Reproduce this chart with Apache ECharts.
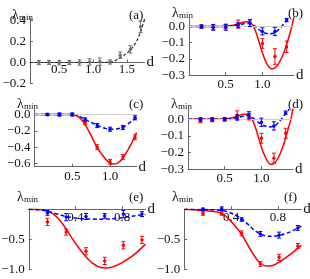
<!DOCTYPE html>
<html>
<head>
<meta charset="utf-8">
<script src="https://cdn.jsdelivr.net/npm/echarts@6/dist/echarts.min.js"></script>
<style>
html,body{margin:0;padding:0;background:#fff;}
#c{width:310px;height:279px;}
</style>
</head>
<body>
<div id="c"></div>
<script>
// ---------- Panel (a) ----------
const dA = [0.2,0.35,0.5,0.65,0.8,0.95,1.1,1.25,1.4,1.55,1.7];
const valA = [0.0,0.0,-0.003,0.0,0.0,0.005,0.008,0.005,0.07,0.125,0.34];
const errA = [0.02,0.02,0.02,0.02,0.025,0.03,0.035,0.02,0.03,0.035,0.055];
const curveAd = [0.07,0.6,1.0,1.2,1.3,1.4,1.47,1.54,1.6,1.66,1.715,1.764];
const curveAv = [0,0,0,0.001,0.01,0.045,0.075,0.115,0.16,0.225,0.32,0.42];

// ---------- Panels (b),(c),(d) shared d ----------
const dBCD = [0.17,0.33,0.5,0.67,0.83,1.0,1.17,1.33];

const redB = [0,-0.003,0,0.015,0.022,-0.105,-0.185,-0.125];
const redErrB = [0.01,0.015,0.015,0.025,0.022,0.03,0.048,0.035];
const blueB = [0,-0.005,-0.005,0.008,0.02,-0.03,-0.03,0.04];
const blueErrB = [0.01,0.018,0.018,0.015,0.02,0.022,0.025,0.01];
const redCurveBd = [0,0.3,0.5,0.6,0.68,0.75,0.8,0.84,0.88,0.93,0.98,1.03,1.08,1.13,1.19,1.25,1.3,1.35,1.4,1.43];
const redCurveBv = [0,0,0.002,0.008,0.018,0.028,0.03,0.022,0.0,-0.06,-0.135,-0.2,-0.245,-0.262,-0.248,-0.205,-0.15,-0.08,0.0,0.06];
const blueCurveBd = [0,0.3,0.5,0.65,0.75,0.82,0.88,0.95,1.02,1.1,1.17,1.23,1.29,1.35,1.38];
const blueCurveBv = [0,0,0,0.008,0.017,0.02,0.008,-0.018,-0.038,-0.045,-0.038,-0.015,0.015,0.048,0.06];

const redC = [0,0,0,-0.10,-0.40,-0.58,-0.52,-0.28];
const redErrC = [0.01,0.01,0.01,0.025,0.03,0.03,0.03,0.03];
const blueC = [0,0,0,-0.06,-0.135,-0.18,-0.16,-0.04];
const blueErrC = [0.015,0.02,0.02,0.02,0.025,0.025,0.025,0.025];
const redCurveCd = [0,0.3,0.5,0.56,0.62,0.68,0.75,0.82,0.9,0.97,1.04,1.1,1.16,1.22,1.28,1.35];
const redCurveCv = [0,0,0,-0.015,-0.06,-0.14,-0.26,-0.39,-0.5,-0.575,-0.607,-0.595,-0.545,-0.46,-0.36,-0.22];
const blueCurveCd = [0,0.3,0.5,0.56,0.63,0.7,0.78,0.86,0.94,1.02,1.1,1.17,1.24,1.3,1.35];
const blueCurveCv = [0,0,0,-0.01,-0.04,-0.075,-0.11,-0.145,-0.17,-0.18,-0.175,-0.155,-0.115,-0.07,-0.045];

const redD = [-0.01,-0.005,0,0.026,0.016,-0.114,-0.234,-0.084];
const redErrD = [0.01,0.01,0.01,0.025,0.02,0.03,0.03,0.03];
const blueD = [0,0,0,0.01,0.026,-0.018,-0.04,0.04];
const blueErrD = [0.01,0.01,0.01,0.015,0.02,0.025,0.025,0.01];
const redCurveDd = [0,0.3,0.5,0.6,0.68,0.75,0.8,0.84,0.88,0.93,0.98,1.03,1.08,1.13,1.19,1.25,1.3,1.35,1.4,1.43];
const redCurveDv = [0,0,0.002,0.01,0.02,0.03,0.03,0.02,-0.005,-0.065,-0.14,-0.205,-0.25,-0.272,-0.258,-0.212,-0.155,-0.08,0.0,0.065];
const blueCurveDd = [0,0.3,0.5,0.65,0.75,0.82,0.88,0.95,1.02,1.1,1.17,1.23,1.29,1.35,1.38];
const blueCurveDv = [0,0,0,0.008,0.018,0.022,0.01,-0.015,-0.035,-0.046,-0.042,-0.02,0.012,0.045,0.06];

// ---------- Panels (e),(f) shared d ----------
const dEF = [0.16,0.32,0.49,0.65,0.81,0.97];

const redE = [-0.21,-0.38,-0.70,-0.86,-0.60,-0.51];
const redErrE = [0.06,0.05,0.06,0.06,0.06,0.06];
const blueE = [-0.06,-0.13,-0.12,-0.11,-0.08,-0.08];
const blueErrE = [0.04,0.06,0.05,0.04,0.06,0.04];
const redCurveEd = [0,0.1,0.16,0.21,0.26,0.31,0.36,0.42,0.48,0.54,0.6,0.66,0.72,0.8,0.9,1.0];
const redCurveEv = [0,-0.005,-0.03,-0.08,-0.17,-0.3,-0.45,-0.62,-0.77,-0.89,-0.96,-0.98,-0.96,-0.89,-0.76,-0.58];
const blueCurveEd = [0,0.1,0.2,0.3,0.4,0.5,0.6,0.7,0.8,0.9,1.0];
const blueCurveEv = [0,-0.01,-0.055,-0.11,-0.145,-0.16,-0.165,-0.16,-0.14,-0.11,-0.085];

const redF = [-0.07,-0.07,-0.40,-0.91,-0.80,-0.61];
const redErrF = [0.03,0.03,0.04,0.04,0.05,0.04];
const blueF = [0,0.01,-0.17,-0.41,-0.43,-0.31];
const blueErrF = [0.02,0.03,0.03,0.04,0.05,0.04];
const redCurveFd = [0,0.1,0.2,0.28,0.33,0.38,0.43,0.49,0.55,0.6,0.65,0.7,0.75,0.82,0.9,1.0];
const redCurveFv = [0,-0.01,-0.025,-0.045,-0.08,-0.16,-0.27,-0.42,-0.62,-0.78,-0.9,-0.945,-0.94,-0.87,-0.76,-0.6];
const blueCurveFd = [0,0.2,0.33,0.42,0.49,0.55,0.6,0.66,0.72,0.8,0.9,1.0];
const blueCurveFv = [0,-0.005,-0.02,-0.08,-0.16,-0.26,-0.35,-0.42,-0.45,-0.44,-0.38,-0.28];

// ---------- Tick values ----------
const xTicksA = [0.5,1.0,1.5];
const yTicksA = [-0.2,0,0.2,0.4];
const xTicksBCD = [0.5,1.0];
const yTicksBD = [-0.3,-0.2,-0.1,0];
const yTicksC = [-0.6,-0.4,-0.2,0];
const xTicksEF = [0.4,0.8];
const yTicksEF = [-1.0,-0.5];

const panelLabels = ['(a)','(b)','(c)','(d)','(e)','(f)'];

// ---------- Styles / helpers ----------
const FONT = '"Liberation Serif","DejaVu Serif",serif';
const RED = '#ff0000', BLUE = '#0000ff', GRAY = '#6e6e6e', AXIS = '#666';

function fmt(v){ const s = Math.abs(v).toFixed(1); return (v < -1e-9 ? '\u2212' : '') + s; }
function zip(a,b){ return a.map((x,i)=>[x,b[i]]); }
function zip3(a,b,c){ return a.map((x,i)=>[x,b[i],c[i]]); }

function xAx(i,min,max,ticks,offset,margin){
  return {gridIndex:i,type:'value',min:min,max:max,position:'bottom',offset:offset,
    name:'d',nameLocation:'end',nameGap:2,
    nameTextStyle:{fontFamily:FONT,fontSize:15,color:'#111'},
    axisLine:{show:true,onZero:false,lineStyle:{color:AXIS,width:1}},
    axisTick:{show:true,inside:true,length:3,customValues:ticks,lineStyle:{color:AXIS}},
    axisLabel:{show:true,customValues:ticks,formatter:fmt,margin:margin,fontFamily:FONT,fontSize:13,color:'#111'},
    splitLine:{show:false}};
}
function yAx(i,min,max,ticks){
  return {gridIndex:i,type:'value',min:min,max:max,
    axisLine:{show:true,onZero:false,lineStyle:{color:AXIS,width:1}},
    axisTick:{show:true,inside:true,length:3,customValues:ticks,lineStyle:{color:AXIS}},
    axisLabel:{show:true,customValues:ticks,formatter:fmt,margin:4,fontFamily:FONT,fontSize:13,color:'#111'},
    splitLine:{show:false}};
}
function curve(i,d,v,color,dashed,zeroLine){
  const s = {type:'line',xAxisIndex:i,yAxisIndex:i,data:zip(d,v),showSymbol:false,smooth:0.3,
    lineStyle:{color:color,width:1.5,type:dashed?[4,2.5]:'solid'},z:3,silent:true};
  if(zeroLine){
    s.markLine = {silent:true,symbol:'none',label:{show:false},
      lineStyle:{color:'#cfcfcf',type:'solid',width:1},data:[{yAxis:0}]};
  }
  return s;
}
function errBars(i,d,v,e,color){
  return {type:'custom',xAxisIndex:i,yAxisIndex:i,data:zip3(d,v,e),encode:{x:0,y:1},z:5,silent:true,
    renderItem:function(params,api){
      const x=api.value(0), y=api.value(1), err=api.value(2);
      const p=api.coord([x,y]), hi=api.coord([x,y+err]), lo=api.coord([x,y-err]);
      const st={stroke:color,lineWidth:1};
      const w=2;
      return {type:'group',children:[
        {type:'line',shape:{x1:p[0],y1:hi[1],x2:p[0],y2:lo[1]},style:st},
        {type:'line',shape:{x1:p[0]-w,y1:hi[1],x2:p[0]+w,y2:hi[1]},style:st},
        {type:'line',shape:{x1:p[0]-w,y1:lo[1],x2:p[0]+w,y2:lo[1]},style:st},
        {type:'circle',shape:{cx:p[0],cy:p[1],r:1.7},style:{fill:color}}
      ]};
    }};
}

const grids = [
  {left:30,  top:18.4,  width:114.6, height:65.1},
  {left:189, top:15.2,  width:105,   height:59.9},
  {left:34.5,top:108,   width:102,   height:58.7},
  {left:188, top:107.7, width:105,   height:61.4},
  {left:28.8,top:209.3, width:116.7, height:60},
  {left:184.3,top:209.3,width:117,   height:60}
].map(g=>Object.assign({outerBoundsMode:'none',containLabel:false},g));

// axis (a) sits on y=0: 0.2/0.62 of the grid height above its bottom edge
const offA = -grids[0].height*0.2/0.62;
const offEF = -grids[4].height;
const xAxes = [
  xAx(0,0.07,1.76,xTicksA,offA,1),
  xAx(1,0,1.43,xTicksBCD,0,3),
  xAx(2,0,1.35,xTicksBCD,0,3),
  xAx(3,0,1.43,xTicksBCD,0,3),
  xAx(4,0,1.0,xTicksEF,offEF,2),
  xAx(5,0,1.0,xTicksEF,offEF,2)
];
const yAxes = [
  yAx(0,-0.2,0.42,yTicksA),
  yAx(1,-0.3,0.07,yTicksBD),
  yAx(2,-0.64,0.08,yTicksC),
  yAx(3,-0.3,0.07,yTicksBD),
  yAx(4,-1.0,0,yTicksEF),
  yAx(5,-1.0,0,yTicksEF)
];

const series = [
  curve(0,curveAd,curveAv,'#222',false,false),
  errBars(0,dA,valA,errA,GRAY),

  curve(1,redCurveBd,redCurveBv,RED,false,true),
  curve(1,blueCurveBd,blueCurveBv,BLUE,true,false),
  errBars(1,dBCD,redB,redErrB,RED),
  errBars(1,dBCD,blueB,blueErrB,BLUE),

  curve(2,redCurveCd,redCurveCv,RED,false,true),
  curve(2,blueCurveCd,blueCurveCv,BLUE,true,false),
  errBars(2,dBCD,redC,redErrC,RED),
  errBars(2,dBCD,blueC,blueErrC,BLUE),

  curve(3,redCurveDd,redCurveDv,RED,false,true),
  curve(3,blueCurveDd,blueCurveDv,BLUE,true,false),
  errBars(3,dBCD,redD,redErrD,RED),
  errBars(3,dBCD,blueD,blueErrD,BLUE),

  curve(4,redCurveEd,redCurveEv,RED,false,false),
  curve(4,blueCurveEd,blueCurveEv,BLUE,true,false),
  errBars(4,dEF,redE,redErrE,RED),
  errBars(4,dEF,blueE,blueErrE,BLUE),

  curve(5,redCurveFd,redCurveFv,RED,false,false),
  curve(5,blueCurveFd,blueCurveFv,BLUE,true,false),
  errBars(5,dEF,redF,redErrF,RED),
  errBars(5,dEF,blueF,blueErrF,BLUE)
];
// the (a) curve is dashed black
series[0].lineStyle.type = [3,2];
series[0].lineStyle.width = 1.2;

// label positions: [lambdaX, lambdaY, panelLabelX, panelLabelY]
const labelPos = [
  [12,8,129,9],
  [172,6,288,7],
  [17,97,129,98],
  [171,97,288,98],
  [17,190,129,191],
  [172,190,284,191]
];
const graphic = [];
labelPos.forEach((p,i)=>{
  graphic.push({type:'text',x:p[0],y:p[1],silent:true,style:{text:'\u03bb',font:'14px '+FONT,fill:'#111',verticalAlign:'top'}});
  graphic.push({type:'text',x:p[0]+7,y:p[1]+5,silent:true,style:{text:'min',font:'9px '+FONT,fill:'#111',verticalAlign:'top'}});
  graphic.push({type:'text',x:p[2],y:p[3],silent:true,style:{text:panelLabels[i],font:'13px '+FONT,fill:'#111',verticalAlign:'top'}});
});

const chart = echarts.init(document.getElementById('c'),null,{renderer:'canvas'});
chart.setOption({
  animation:false,
  backgroundColor:'#fff',
  grid:grids,
  xAxis:xAxes,
  yAxis:yAxes,
  series:series,
  graphic:graphic
});
</script>
</body>
</html>
